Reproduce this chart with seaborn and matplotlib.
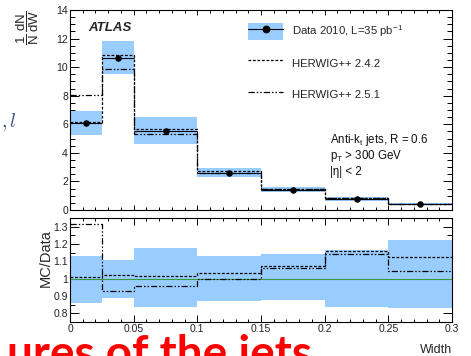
import numpy as np
import matplotlib
matplotlib.use("Agg")
import matplotlib.pyplot as plt
from matplotlib.ticker import MultipleLocator, FixedLocator, FormatStrFormatter
from matplotlib.patches import Patch
from matplotlib.lines import Line2D
import seaborn as sns

# ---- jet width distribution, anti-kt R=0.6, pT > 300 GeV, |eta| < 2 ----
bin_edges = [0.0, 0.025, 0.05, 0.10, 0.15, 0.20, 0.25, 0.30]
data_2010 = [6.10, 10.66, 5.55, 2.61, 1.40, 0.75, 0.40]
herwig_242 = [6.16, 10.87, 5.64, 2.70, 1.505, 0.868, 0.449]
herwig_251 = [8.04, 9.90, 5.30, 2.61, 1.487, 0.857, 0.417]
# total relative uncertainty on the data (up / down)
unc_up = [0.133, 0.108, 0.177, 0.129, 0.143, 0.168, 0.221]
unc_down = [0.140, 0.110, 0.164, 0.127, 0.123, 0.164, 0.170]

main_yticks = [0, 2, 4, 6, 8, 10, 12, 14]
ratio_yticks = [0.8, 0.9, 1.0, 1.1, 1.2, 1.3]
width_ticks = [0, 0.05, 0.1, 0.15, 0.2, 0.25, 0.3]

legend_labels = ["Data 2010, L=35 pb$^{\\mathregular{-1}}$",
                 "HERWIG++ 2.4.2", "HERWIG++ 2.5.1"]
info_lines = ["Anti-k$_{\\mathregular{t}}$ jets, R = 0.6",
              "p$_{\\mathregular{T}}$ > 300 GeV",
              "|\u03b7| < 2"]

W, H = 471, 356
sns.set_style("ticks")
plt.rcParams["font.family"] = ["Liberation Sans", "DejaVu Sans"]
plt.rcParams["mathtext.fontset"] = "custom"
plt.rcParams["mathtext.rm"] = "Liberation Sans"
plt.rcParams["mathtext.it"] = "Liberation Sans:italic"
plt.rcParams["mathtext.bf"] = "Liberation Sans:bold"

BAND = "#99ccff"
DASH = (0, (2.2, 1.4))
DASHDOTDOT = (0, (5.0, 1.6, 1.2, 1.6, 1.2, 1.6))

edges = np.array(bin_edges)
lo, hi = edges[:-1], edges[1:]
centers = 0.5 * (lo + hi)
widths = hi - lo
data = np.array(data_2010)
mc242 = np.array(herwig_242)
mc251 = np.array(herwig_251)
up = np.array(unc_up)
dn = np.array(unc_down)


def fx(px):
    return px / W


def fy(py):
    return 1 - py / H


def steps(values):
    return edges, np.append(values, values[-1])


fig = plt.figure(figsize=(W / 100, H / 100), dpi=100)
ax = fig.add_axes([fx(70), fy(210), 382 / W, 200 / H])
axr = fig.add_axes([fx(70), fy(322), 382 / W, 104 / H])

# ---------------- upper panel ----------------
ax.bar(lo, data * (up + dn), bottom=data * (1 - dn), width=widths,
       align="edge", color=BAND, lw=0, zorder=1)
x, y = steps(mc242)
sns.lineplot(x=x, y=y, ax=ax, drawstyle="steps-post", color="black",
             lw=0.9, linestyle=DASH, zorder=3)
x, y = steps(mc251)
sns.lineplot(x=x, y=y, ax=ax, drawstyle="steps-post", color="black",
             lw=0.9, linestyle=DASHDOTDOT, zorder=3)
ax.hlines(data, lo, hi, color="black", lw=0.8, zorder=4)
sns.scatterplot(x=centers, y=data, ax=ax, color="black", s=22,
                edgecolor="black", linewidth=0, zorder=5)

ax.set_xlim(0, 0.3)
ax.set_ylim(0, 14)
ax.yaxis.set_major_locator(FixedLocator(main_yticks))
ax.yaxis.set_minor_locator(MultipleLocator(0.5))
ax.xaxis.set_major_locator(FixedLocator(width_ticks))
ax.xaxis.set_minor_locator(MultipleLocator(0.01))
ax.set_xticklabels([])
ax.set_xlabel("")
ax.set_ylabel("")

# ---------------- ratio panel ----------------
axr.bar(lo, up + dn, bottom=1 - dn, width=widths, align="edge",
        color=BAND, lw=0, zorder=1)
axr.axhline(1.0, color="#3a9a3a", lw=0.8, zorder=2)
x, y = steps(mc242 / data)
sns.lineplot(x=x, y=y, ax=axr, drawstyle="steps-post", color="black",
             lw=0.9, linestyle=DASH, zorder=3)
x, y = steps(mc251 / data)
sns.lineplot(x=x, y=y, ax=axr, drawstyle="steps-post", color="black",
             lw=0.9, linestyle=DASHDOTDOT, zorder=3)
axr.set_xlim(0, 0.3)
axr.set_ylim(0.75, 1.35)
axr.yaxis.set_major_locator(FixedLocator(ratio_yticks))
axr.yaxis.set_minor_locator(MultipleLocator(0.05))
axr.yaxis.set_major_formatter(FormatStrFormatter("%g"))
axr.xaxis.set_major_locator(FixedLocator(width_ticks))
axr.xaxis.set_minor_locator(MultipleLocator(0.01))
axr.xaxis.set_major_formatter(FormatStrFormatter("%g"))
axr.set_xlabel("")
axr.set_ylabel("")

for a in (ax, axr):
    for s in a.spines.values():
        s.set_linewidth(0.8)
        s.set_color("black")
    a.tick_params(which="both", direction="in", top=True, right=True,
                  width=0.7, color="black", labelsize=7.5, pad=1.5,
                  labelcolor="#222222")
ax.tick_params(axis="y", which="major", length=6.5)
ax.tick_params(axis="y", which="minor", length=3.3)
ax.tick_params(axis="x", which="major", length=3.8)
ax.tick_params(axis="x", which="minor", length=2.0)
axr.tick_params(axis="y", which="major", length=6.5)
axr.tick_params(axis="y", which="minor", length=3.3)
axr.tick_params(axis="x", which="major", length=5.0)
axr.tick_params(axis="x", which="minor", length=2.5)

# ---------------- legend ----------------
lfs = 8.2
em = lfs * 100 / 72
handles = [
    (Patch(facecolor=BAND, edgecolor="none"),
     Line2D([], [], color="black", lw=0.8, marker="o", ms=4.6)),
    Line2D([], [], color="black", lw=0.9, linestyle=DASH),
    Line2D([], [], color="black", lw=0.9, linestyle=DASHDOTDOT),
]
ax.legend(handles, legend_labels, loc="upper left",
          bbox_to_anchor=(fx(248), fy(23)), bbox_transform=fig.transFigure,
          frameon=False, fontsize=lfs, borderpad=0, borderaxespad=0,
          handlelength=35 / em, handleheight=22 / em,
          handletextpad=9 / em, labelspacing=1.25)

# ---------------- annotations ----------------
fig.text(fx(88), fy(28), "ATLAS", fontsize=9.5, fontweight="bold",
         fontstyle="italic", va="center", ha="left")
for txt, yb in zip(info_lines, [143, 159, 175]):
    fig.text(fx(330), fy(yb), txt, fontsize=8.3, va="baseline", ha="left",
             color="#111111")

fig.text(fx(27.5), fy(28),
         r"$\dfrac{\mathregular{1}}{\mathregular{N}}\,"
         r"\dfrac{\mathregular{dN}}{\mathregular{dW}}$",
         rotation=90, fontsize=9.5, ha="center", va="center")
fig.text(fx(46), fy(258), "MC/Data", rotation=90, fontsize=10.5,
         ha="center", va="center")
fig.text(fx(452), fy(350), "Width", fontsize=9, ha="right", va="center")

# slide remnants around the figure
fig.text(fx(1), fy(122), r"$,l$", fontsize=14, color="#3c4a86",
         math_fontfamily="cm", ha="left", va="center")
fig.text(fx(7), fy(334), "ures of the jets", fontsize=33, color="#ff0000",
         fontweight="bold", family=["Lato", "DejaVu Sans"],
         ha="left", va="top", zorder=10)

fig.savefig("out.png", dpi=100)
